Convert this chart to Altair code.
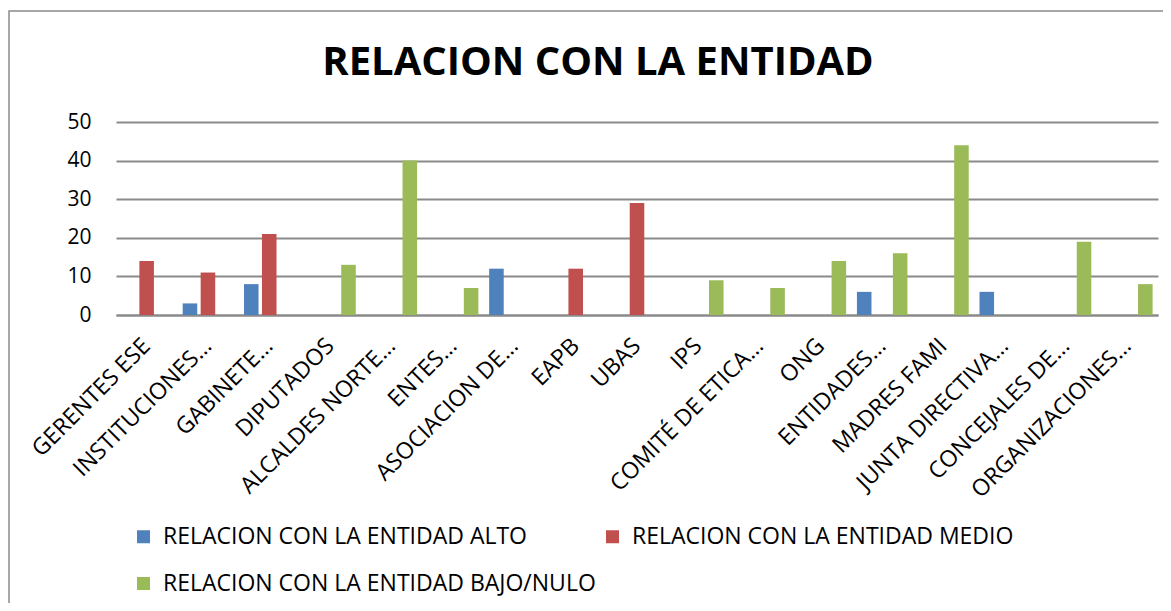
import altair as alt
import pandas as pd

categories = ["GERENTES ESE", "INSTITUCIONES…", "GABINETE…", "DIPUTADOS",
              "ALCALDES NORTE…", "ENTES…", "ASOCIACION DE…", "EAPB", "UBAS",
              "IPS", "COMITÉ DE  ETICA…", "ONG", "ENTIDADES…", "MADRES FAMI",
              "JUNTA DIRECTIVA…", "CONCEJALES DE…", "ORGANIZACIONES…"]
series = ["RELACION CON LA ENTIDAD ALTO", "RELACION CON LA ENTIDAD MEDIO",
          "RELACION CON LA ENTIDAD BAJO/NULO"]
alto = [None, 3, 8, None, None, None, 12, None, None, None, None, None, 6, None, 6, None, None]
medio = [14, 11, 21, None, None, None, None, 12, 29, None, None, None, None, None, None, None, None]
bajo = [None, None, None, 13, 40, 7, None, None, None, 9, 7, 14, 16, 44, None, 19, 8]
colors = ["#4F81BD", "#C0504D", "#9BBB59"]
y_ticks = [0, 10, 20, 30, 40, 50]
title_text = "RELACION CON LA ENTIDAD"

rows = []
for s, vals in zip(series, [alto, medio, bajo]):
    for c, v in zip(categories, vals):
        if v is not None:
            rows.append({"cat": c, "serie": s, "val": v})
df = pd.DataFrame(rows)

FONT = "Open Sans"
GRID = "#8a8a8a"

bars = alt.Chart(df).mark_bar().encode(
    x=alt.X("cat:N", sort=categories,
            scale=alt.Scale(domain=categories, paddingInner=0, paddingOuter=0),
            axis=alt.Axis(title=None, labelAngle=-45, labelAlign="right",
                          labelBaseline="middle", labelFontSize=23, labelPadding=27,
                          ticks=False, domainColor=GRID, domainWidth=2,
                          labelLimit=400, labelColor="#000000", labelFont=FONT)),
    xOffset=alt.XOffset("serie:N", sort=series,
                        scale=alt.Scale(domain=series, paddingInner=0.19, paddingOuter=0.3)),
    y=alt.Y("val:Q", scale=alt.Scale(domain=[0, 50]),
            axis=alt.Axis(title=None, values=y_ticks, domain=False, ticks=False,
                          labelPadding=25, labelFontSize=21, labelColor="#000000",
                          labelFont=FONT, gridColor=GRID, gridWidth=2)),
    color=alt.Color("serie:N", sort=series,
                    scale=alt.Scale(domain=series, range=colors),
                    legend=alt.Legend(title=None, orient="none", legendX=16, legendY=403,
                                      direction="horizontal",
                                      columns=2, symbolType="square", symbolSize=169,
                                      symbolStrokeWidth=0, labelFontSize=23,
                                      labelFont=FONT, labelColor="#000000",
                                      labelOffset=8, rowPadding=23, columnPadding=5,
                                      gridAlign="all", labelLimit=600)),
)

frame = alt.Chart(pd.DataFrame({"a": [0]})).mark_rect(
    fillOpacity=0, stroke="#8a8a8a", strokeWidth=1.5
).encode(x=alt.value(-107), x2=alt.value(1070), y=alt.value(-111), y2=alt.value(520))

title = alt.Chart(pd.DataFrame({"t": [title_text]})).mark_text(
    font=FONT, fontSize=40, fontWeight="bold", color="#000000",
    align="center", baseline="alphabetic"
).encode(text="t:N", x=alt.value(482), y=alt.value(-47))

chart = alt.layer(frame, bars, title).properties(
    width=1042, height=193,
    autosize=alt.AutoSizeParams(type="none"),
    padding={"left": 108, "top": 114, "right": 5, "bottom": 288},
).configure_view(stroke=None)

chart.save("out.html", embed_options={"renderer": "svg", "actions": False})
